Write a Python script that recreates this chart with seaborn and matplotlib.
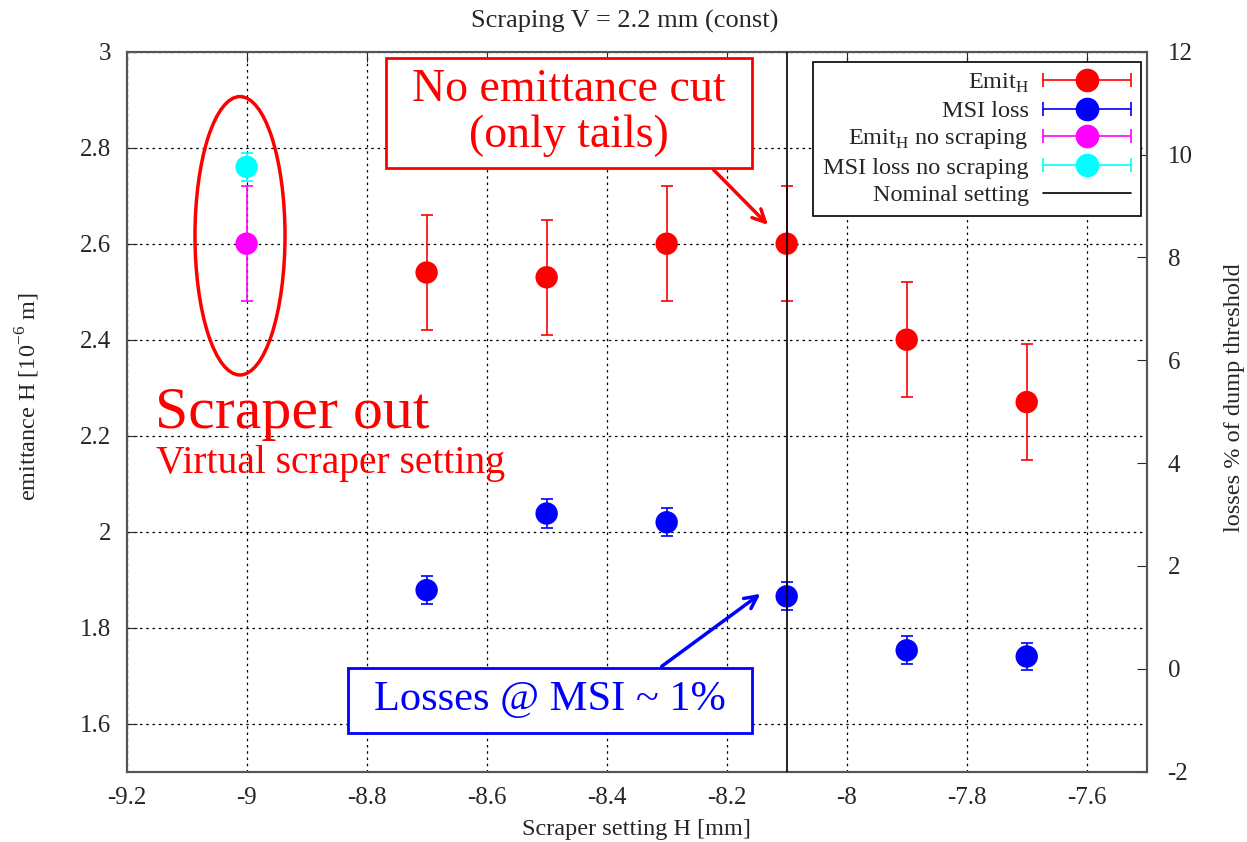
import matplotlib
matplotlib.use("Agg")
import matplotlib.pyplot as plt
import seaborn as sns
from matplotlib.lines import Line2D
from matplotlib.patches import Ellipse, Rectangle
from matplotlib.legend_handler import HandlerBase
from matplotlib.ticker import MultipleLocator, FormatStrFormatter

# data
scraper_h = [-8.7, -8.5, -8.3, -8.1, -7.9, -7.7]
emit_h = [2.54, 2.53, 2.60, 2.60, 2.40, 2.27]
emit_h_err = [0.12, 0.12, 0.12, 0.12, 0.12, 0.12]
msi_loss = [1.53, 3.02, 2.85, 1.41, 0.36, 0.24]
msi_loss_err = [0.27, 0.28, 0.27, 0.27, 0.27, 0.27]

noscrape_x = [-9.0]
emit_h_noscrape = [2.60]
emit_h_noscrape_err = [0.12]
msi_noscrape = [9.76]
msi_noscrape_err = [0.27]

nominal_setting = -8.1

labels = ["Emit$_{\\mathrm{H}}$", "MSI loss", "Emit$_{\\mathrm{H}}$ no scraping",
          "MSI loss no scraping", "Nominal setting"]
colors = ["#ff0000", "#0000ff", "#ff00ff", "#00ffff"]

sns.set_style("white")
plt.rcParams["font.family"] = ["Liberation Serif", "DejaVu Serif"]
plt.rcParams["mathtext.fontset"] = "custom"
plt.rcParams["mathtext.rm"] = "Liberation Serif"
plt.rcParams["axes.unicode_minus"] = False


class ErrLegend(HandlerBase):
    # gnuplot style key: horizontal bar with caps and a dot in the middle
    def create_artists(self, legend, orig_handle, xdescent, ydescent,
                       width, height, fontsize, trans):
        c = orig_handle.get_color()
        y = height / 2 - ydescent
        x0, x1 = -xdescent, -xdescent + width
        line = Line2D([x0, x1], [y, y], color=c, lw=1.2)
        caps = Line2D([x0, x1], [y, y], color=c, ls="none", marker="|", ms=10, mew=1.2)
        dot = Line2D([(x0 + x1) / 2], [y], color=c, ls="none", marker="o", ms=16)
        for a in (line, caps, dot):
            a.set_transform(trans)
        return [line, caps, dot]


fig = plt.figure(figsize=(12.47, 8.42), dpi=100)
ax = fig.add_axes([0.1015, 0.0835, 0.8181, 0.8551])
ax2 = ax.twinx()

# left axis: emittance
ax.errorbar(scraper_h, emit_h, yerr=emit_h_err, fmt="none", ecolor=colors[0],
            elinewidth=1.2, capsize=4.5, capthick=1.2, zorder=3)
sns.scatterplot(x=scraper_h, y=emit_h, color=colors[0], s=260, edgecolor="none",
                ax=ax, zorder=4, legend=False)
ax.errorbar(noscrape_x, emit_h_noscrape, yerr=emit_h_noscrape_err, fmt="none",
            ecolor=colors[2], elinewidth=1.2, capsize=4.5, capthick=1.2, zorder=3)
sns.scatterplot(x=noscrape_x, y=emit_h_noscrape, color=colors[2], s=260,
                edgecolor="none", ax=ax, zorder=4, legend=False)

# right axis: losses
ax2.errorbar(scraper_h, msi_loss, yerr=msi_loss_err, fmt="none", ecolor=colors[1],
             elinewidth=1.2, capsize=4.5, capthick=1.2, zorder=3)
sns.scatterplot(x=scraper_h, y=msi_loss, color=colors[1], s=260, edgecolor="none",
                ax=ax2, zorder=4, legend=False)
ax2.errorbar(noscrape_x, msi_noscrape, yerr=msi_noscrape_err, fmt="none",
             ecolor=colors[3], elinewidth=1.2, capsize=4.5, capthick=1.2, zorder=3)
sns.scatterplot(x=noscrape_x, y=msi_noscrape, color=colors[3], s=260,
                edgecolor="none", ax=ax2, zorder=4, legend=False)

ax2.axvline(nominal_setting, color="black", lw=1.2, zorder=5)

ax.set_xlim(-9.2, -7.5)
ax.set_ylim(1.5, 3.0)
ax2.set_ylim(-2, 12)
ax.xaxis.set_major_locator(MultipleLocator(0.2))
ax.yaxis.set_major_locator(MultipleLocator(0.2))
ax2.yaxis.set_major_locator(MultipleLocator(2))
for a in (ax.xaxis, ax.yaxis, ax2.yaxis):
    a.set_major_formatter(FormatStrFormatter("%g"))

ax.grid(True, color="black", ls=(0, (2, 3)), lw=0.9)
ax2.grid(False)
ax.set_axisbelow(True)

ax.tick_params(axis="x", direction="in", length=7, top=True, labelsize=18, pad=11)
ax.tick_params(axis="y", direction="in", length=7, labelsize=18, pad=11)
ax2.tick_params(axis="y", direction="in", length=7, labelsize=18, pad=15, right=True)
for a in (ax, ax2):
    for s in a.spines.values():
        s.set_color("#555555")
        s.set_linewidth(1.5)

ax.set_xlabel("Scraper setting H [mm]", fontsize=17.5)
ax.set_ylabel("emittance H [10$^{-6}$ m]", fontsize=17.5)
ax2.set_ylabel("losses % of dump threshold", fontsize=17.5, rotation=90)
ax.xaxis.set_label_coords(0.5, -0.066)
ax.yaxis.set_label_coords(-0.083, 0.52)
ax2.yaxis.set_label_coords(1.076, 0.52)
ax.set_title("Scraping V = 2.2 mm (const)", fontsize=19, y=1.022, x=0.488)

# ellipse around the scraper-out points
ax.add_patch(Ellipse((-9.011, 2.6165), 0.15, 0.58, fill=False, ec="red", lw=2.5, zorder=6))

ax2.text(0.0278, 0.497, "Scraper out", transform=ax.transAxes, color="red",
         fontsize=43, va="center", ha="left")
ax2.text(0.0290, 0.428, "Virtual scraper setting", transform=ax.transAxes, color="red",
         fontsize=28.5, va="center", ha="left")

# annotation boxes
ax2.add_patch(Rectangle((0.2543, 0.8385), 0.3588, 0.1525, transform=ax.transAxes,
                        fc="white", ec="red", lw=2, zorder=7))
ax2.text(0.4337, 0.9149, "No emittance cut\n(only tails)", transform=ax.transAxes,
         color="red", fontsize=33, ha="center", va="center", linespacing=1.1, zorder=8)
ax2.annotate("", xy=(-8.128, 2.635), xytext=(-8.225, 2.758),
             xycoords=ax.transData, textcoords=ax.transData,
             arrowprops=dict(arrowstyle="->,head_length=0.9,head_width=0.45",
                             color="red", lw=2.5), zorder=8)

ax2.add_patch(Rectangle((0.2171, 0.0538), 0.396, 0.0902, transform=ax.transAxes,
                        fc="white", ec="blue", lw=2, zorder=7))
ax2.text(0.4151, 0.0997, "Losses @ MSI ~ 1%", transform=ax.transAxes,
         color="blue", fontsize=30.5, ha="center", va="center", zorder=8)
ax2.annotate("", xy=(-8.140, 1.874), xytext=(-8.312, 1.716),
             xycoords=ax.transData, textcoords=ax.transData,
             arrowprops=dict(arrowstyle="->,head_length=0.9,head_width=0.45",
                             color="blue", lw=2.5), zorder=8)

# legend
proxies = [Line2D([], [], color=c) for c in colors]
nominal = Line2D([], [], color="black", lw=1.2)
hmap = {p: ErrLegend() for p in proxies}
leg = ax2.legend(proxies + [nominal], labels, loc="upper right",
                 bbox_to_anchor=(0.994, 0.986), borderaxespad=0, markerfirst=False,
                 handlelength=3.6, handletextpad=0.6, labelspacing=0.22, fontsize=17.5,
                 frameon=True, fancybox=False, edgecolor="black", framealpha=1,
                 handler_map=hmap)
leg.get_frame().set_linewidth(1.2)
leg.set_zorder(10)

fig.savefig("out.png", dpi=100)
plt.close(fig)
